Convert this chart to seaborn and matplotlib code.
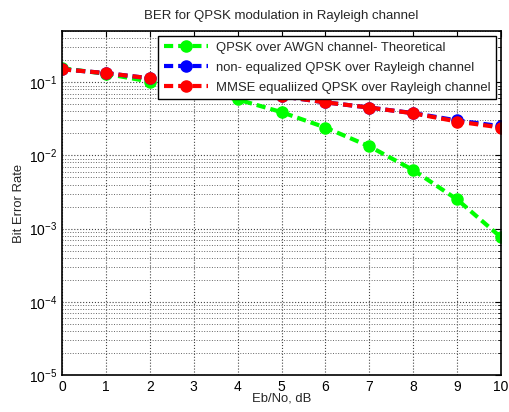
import numpy as np
import pandas as pd
import matplotlib
matplotlib.use("Agg")
import matplotlib.pyplot as plt
import seaborn as sns
from matplotlib.ticker import LogLocator, FixedLocator, NullFormatter

sns.set_style("white")
plt.rcParams['font.family'] = ['Liberation Sans', 'DejaVu Sans']
plt.rcParams['mathtext.default'] = 'regular'

ebno_db = [0, 1, 2, 3, 4, 5, 6, 7, 8, 9, 10]
ber_awgn_theory = [0.155, 0.130, 0.102, 0.080, 0.058, 0.039, 0.024, 0.0133, 0.0063, 0.0025, 0.00076]
ber_rayleigh_noeq = [0.150, 0.133, 0.113, 0.092, 0.076, 0.064, 0.053, 0.045, 0.0378, 0.0300, 0.0250]
ber_rayleigh_mmse = [0.150, 0.133, 0.113, 0.092, 0.076, 0.064, 0.053, 0.045, 0.0376, 0.0290, 0.0240]

labels = ["QPSK over AWGN channel- Theoretical",
          "non- equalized QPSK over Rayleigh channel",
          "MMSE equaliized QPSK over Rayleigh channel"]
colors = ["#00ff00", "#0000ff", "#ff0000"]

fig = plt.figure(figsize=(5.09, 4.12), dpi=100)
ax = fig.add_axes([62/509, 37/412, 439/509, 344/412])

for vals, lab, col in zip([ber_awgn_theory, ber_rayleigh_noeq, ber_rayleigh_mmse], labels, colors):
    df = pd.DataFrame({"x": ebno_db, "y": vals})
    sns.lineplot(data=df, x="x", y="y", ax=ax, color=col, label=lab,
                 linestyle=(0, (2.2, 1.2)), linewidth=3.0, marker="o",
                 markersize=8, markerfacecolor=col, markeredgecolor=col,
                 markeredgewidth=1.0)

ax.set_yscale("log")
ax.set_xlim(0, 10)
ax.set_ylim(1e-5, 0.5)
ax.xaxis.set_major_locator(FixedLocator(list(range(0, 11))))
ax.yaxis.set_major_locator(LogLocator(base=10, numticks=10))
ax.yaxis.set_minor_locator(LogLocator(base=10, subs=np.arange(2, 10), numticks=20))
ax.yaxis.set_minor_formatter(NullFormatter())

ax.grid(True, which="major", color="#444444", linestyle=":", linewidth=0.8)
ax.grid(True, which="minor", axis="y", color="#666666", linestyle=":", linewidth=0.7)

ax.tick_params(which="both", direction="in", top=True, right=True, labelsize=10, colors="black")
ax.tick_params(which="major", length=4)
ax.tick_params(which="minor", length=2.5)
for s in ax.spines.values():
    s.set_color("black")
    s.set_linewidth(1.2)

ax.set_title("BER for QPSK modulation in Rayleigh channel", fontsize=9.5, pad=9)
ax.set_xlabel("Eb/No, dB", fontsize=9.4, labelpad=-1)
ax.set_ylabel("Bit Error Rate", fontsize=9.4, labelpad=3)

leg = ax.legend(loc="upper right", fontsize=9.4, frameon=True, fancybox=False,
                edgecolor="black", framealpha=1, handlelength=3.4,
                borderpad=0.45, labelspacing=0.6, borderaxespad=0.35, handletextpad=0.6)
leg.get_frame().set_linewidth(1.0)
leg.set_zorder(10)

fig.savefig("out.png", dpi=100)
